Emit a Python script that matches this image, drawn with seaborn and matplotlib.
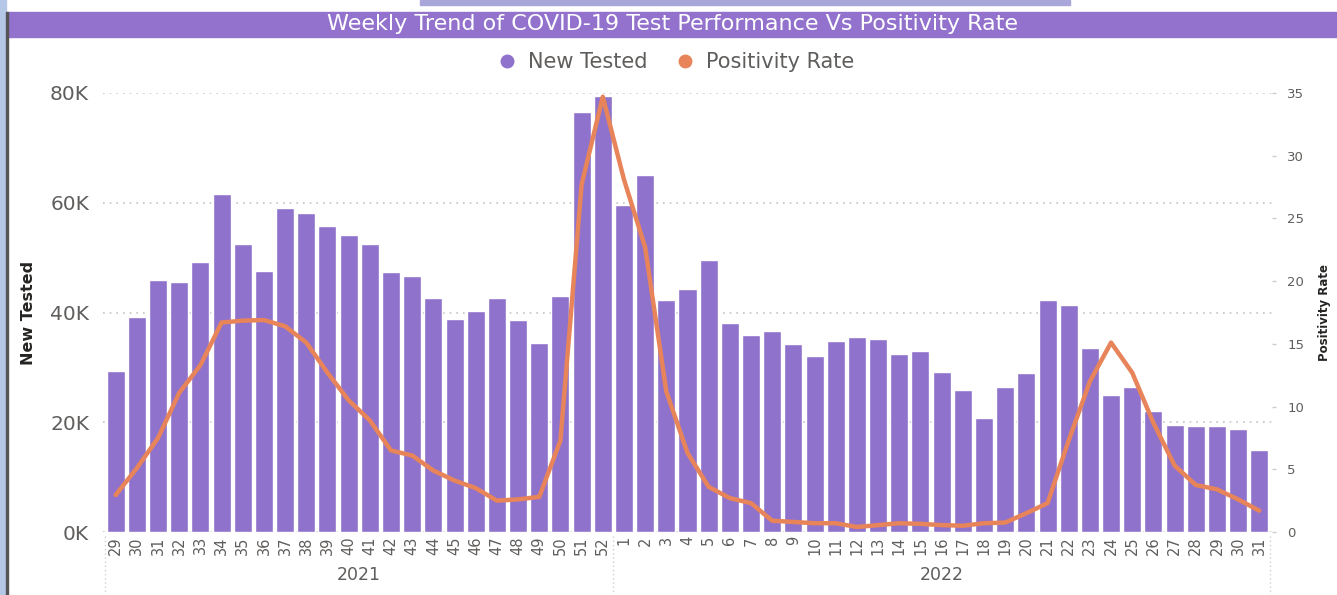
import matplotlib
matplotlib.use("Agg")
import matplotlib.pyplot as plt
from matplotlib.lines import Line2D
from matplotlib.patches import Rectangle
import numpy as np
import pandas as pd
import seaborn as sns

# weekly data
years = ["2021"] * 24 + ["2022"] * 31
weeks = [29, 30, 31, 32, 33, 34, 35, 36, 37, 38, 39, 40, 41, 42, 43, 44, 45, 46,
         47, 48, 49, 50, 51, 52,
         1, 2, 3, 4, 5, 6, 7, 8, 9, 10, 11, 12, 13, 14, 15, 16, 17, 18, 19, 20,
         21, 22, 23, 24, 25, 26, 27, 28, 29, 30, 31]
new_tested = [29400, 39200, 46000, 45500, 49200, 61600, 52500, 47500, 59000,
              58100, 55800, 54200, 52500, 47300, 46600, 42700, 38800, 40300,
              42700, 38600, 34500, 43000, 76500, 79400,
              59500, 65000, 42200, 44200, 49600, 38100, 35900, 36600, 34200,
              32000, 34800, 35500, 35100, 32500, 32900, 29200, 25900, 20700,
              26500, 29000, 42200, 41300, 33600, 25000, 26400, 22100, 19500,
              19300, 19400, 18800, 15000]
positivity = [2.95, 5.1, 7.5, 11.1, 13.3, 16.7, 16.85, 16.9, 16.4, 15.1, 12.7,
              10.5, 8.9, 6.5, 6.1, 4.9, 4.1, 3.5, 2.5, 2.6, 2.8, 7.3, 27.7, 34.7,
              28.1, 22.7, 11.2, 6.3, 3.6, 2.7, 2.3, 0.9, 0.8, 0.7, 0.7, 0.4,
              0.55, 0.7, 0.65, 0.55, 0.5, 0.7, 0.75, 1.5, 2.3, 7.3, 12.0, 15.1,
              12.7, 8.7, 5.3, 3.75, 3.4, 2.6, 1.7]

purple = "#8F72CB"
orange = "#E8845A"
grey = "#605E5C"

df = pd.DataFrame({"year": years, "week": weeks,
                   "tested": new_tested, "rate": positivity})
df["key"] = df["year"] + "-" + df["week"].astype(str)
df["pos"] = np.arange(len(df))

sns.set_theme(style="white")
plt.rcParams["font.family"] = ["DejaVu Sans"]

fig = plt.figure(figsize=(13.37, 5.95), dpi=100)
ax = fig.add_axes([103 / 1337, 1 - 532 / 595, (1272 - 103) / 1337, (532 - 93) / 595])

sns.barplot(data=df, x="key", y="tested", color=purple, saturation=1,
            width=0.85, ax=ax, order=list(df["key"]))
ax.set_ylim(0, 80000)
ax.set_xlim(-0.6, len(df) - 0.4)
ax.set_yticks([0, 20000, 40000, 60000, 80000])
ax.set_yticklabels([f"{int(v / 1000)}K" for v in ax.get_yticks()],
                   fontsize=14.5, color=grey)
ax.set_xticks(df["pos"])
ax.set_xticklabels(df["week"].astype(str), rotation=90, fontsize=10.5, color=grey)
ax.tick_params(axis="x", length=0, pad=3)
ax.tick_params(axis="y", length=0, pad=10)
ax.yaxis.grid(True, linestyle=(0, (1, 3)), color="#c4c4c4", linewidth=1.2)
ax.set_axisbelow(True)
ax.set_xlabel("")
ax.set_ylabel("New Tested", fontsize=11.5, fontweight="bold", color="#252423", labelpad=10)
for s in ax.spines.values():
    s.set_visible(False)

ax2 = ax.twinx()
sns.lineplot(data=df, x="pos", y="rate", color=orange, linewidth=3.2, ax=ax2)
ax2.set_ylim(0, 35)
ax2.set_yticks([0, 5, 10, 15, 20, 25, 30, 35])
ax2.set_yticklabels([str(v) for v in ax2.get_yticks()], fontsize=9.5, color=grey)
ax2.tick_params(axis="y", length=3, width=1, color="#cccccc", pad=8)
ax2.set_ylabel("Positivity Rate", fontsize=8.5, fontweight="bold", color="#252423", labelpad=10)
ax2.set_xlabel("")
for s in ax2.spines.values():
    s.set_visible(False)

# year labels and separators under the week ticks
tr = ax.get_xaxis_transform()
n21 = years.count("2021")
for xs in [-0.5, n21 - 0.5, len(df) - 0.5]:
    ax.plot([xs, xs], [-0.01, -0.15], transform=tr, clip_on=False,
            color="#d0d0d0", linestyle=(0, (1, 2)), linewidth=1)
ax.text((n21 - 1) / 2, -0.098, "2021", transform=tr, ha="center", va="center",
        fontsize=12.5, color=grey)
ax.text((n21 + len(df) - 1) / 2, -0.098, "2022", transform=tr, ha="center",
        va="center", fontsize=12.5, color=grey)

# title band
fig.patches.append(Rectangle((7 / 1337, 1 - 37 / 595), 1330 / 1337, 25 / 595,
                             transform=fig.transFigure, color="#9272CC", zorder=0))
fig.text(673 / 1337, 1 - 24.5 / 595,
         "Weekly Trend of COVID-19 Test Performance Vs Positivity Rate",
         ha="center", va="center", color="white", fontsize=16)
fig.patches.append(Rectangle((420 / 1337, 1 - 5 / 595), 650 / 1337, 5 / 595,
                             transform=fig.transFigure, color="#A9A6DA", zorder=0))
fig.patches.append(Rectangle((0, 0), 6 / 1337, 1, transform=fig.transFigure,
                             color="#B4C7E7", zorder=0))
fig.patches.append(Rectangle((6 / 1337, 0), 1.5 / 1337, 1 - 12 / 595,
                             transform=fig.transFigure, color="#555555", zorder=0))

handles = [Line2D([], [], marker="o", linestyle="", color=purple, markersize=9),
           Line2D([], [], marker="o", linestyle="", color=orange, markersize=9)]
leg = fig.legend(handles, ["New Tested", "Positivity Rate"], loc="center",
                 bbox_to_anchor=(670 / 1337, 1 - 62 / 595), ncol=2, frameon=False,
                 fontsize=15, handletextpad=0.0, columnspacing=0.8)
for t in leg.get_texts():
    t.set_color(grey)

fig.savefig("out.png", dpi=100)
